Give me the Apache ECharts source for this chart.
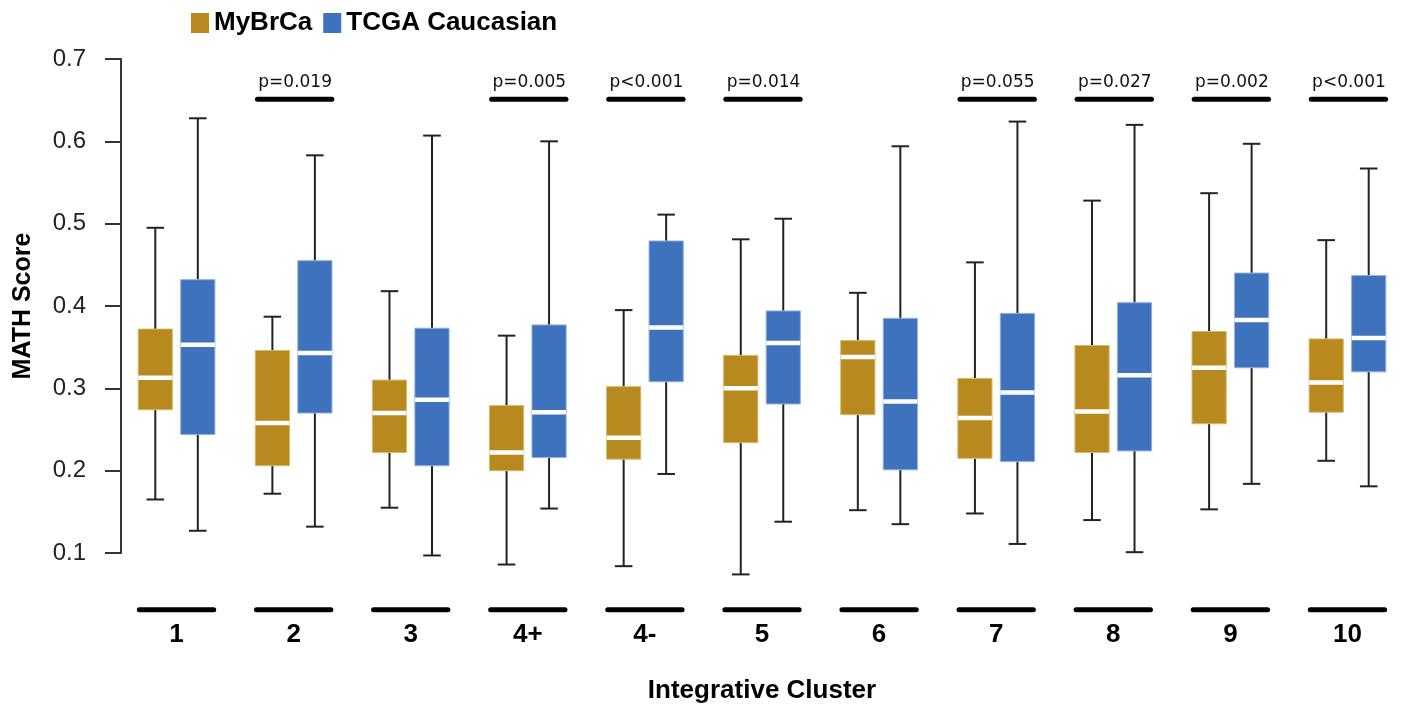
<!DOCTYPE html>
<html>
<head>
<meta charset="utf-8">
<title>MATH Score by Integrative Cluster</title>
<script src="https://cdn.jsdelivr.net/npm/echarts@6/dist/echarts.min.js"></script>
<style>
  html, body { margin: 0; padding: 0; background: #ffffff; }
  #chart { width: 1406px; height: 709px; }
</style>
</head>
<body>
<div id="chart"></div>
<script>
// Integrative clusters along the x axis
const categories = ['1', '2', '3', '4+', '4-', '5', '6', '7', '8', '9', '10'];

// Box statistics per cluster: [lower whisker, Q1, median, Q3, upper whisker]
const myBrCa = [
  [0.165, 0.274, 0.313, 0.372, 0.495],
  [0.172, 0.206, 0.258, 0.346, 0.387],
  [0.155, 0.222, 0.270, 0.310, 0.418],
  [0.086, 0.200, 0.222, 0.279, 0.364],
  [0.084, 0.214, 0.240, 0.302, 0.395],
  [0.074, 0.234, 0.300, 0.340, 0.481],
  [0.152, 0.268, 0.338, 0.358, 0.416],
  [0.148, 0.215, 0.264, 0.312, 0.453],
  [0.140, 0.222, 0.272, 0.352, 0.528],
  [0.153, 0.257, 0.325, 0.369, 0.537],
  [0.212, 0.271, 0.307, 0.360, 0.480]
];
const tcgaCaucasian = [
  [0.127, 0.244, 0.353, 0.432, 0.628],
  [0.132, 0.270, 0.343, 0.455, 0.583],
  [0.097, 0.206, 0.286, 0.373, 0.607],
  [0.154, 0.216, 0.271, 0.377, 0.600],
  [0.196, 0.308, 0.374, 0.479, 0.511],
  [0.138, 0.281, 0.355, 0.394, 0.506],
  [0.135, 0.201, 0.284, 0.385, 0.594],
  [0.111, 0.211, 0.295, 0.391, 0.624],
  [0.101, 0.224, 0.316, 0.404, 0.620],
  [0.184, 0.325, 0.383, 0.440, 0.597],
  [0.181, 0.320, 0.361, 0.437, 0.567]
];

// Significance labels per cluster (empty where none is shown)
const pLabels = ['', 'p=0.019', '', 'p=0.005', 'p<0.001', 'p=0.014', '', 'p=0.055', 'p=0.027', 'p=0.002', 'p<0.001'];

const seriesNames = ['MyBrCa', 'TCGA Caucasian'];

// Styling constants
const GOLD = '#B8891E';
const GOLD_EDGE = '#D6B869';
const BLUE = '#3F72BC';
const BLUE_EDGE = '#8FB0E0';
const INK = '#222222';
const BOX_W = 0.292;      // box width as a share of the category band
const BOX_SHIFT = 0.1815; // box centre offset from band centre
const CAP_W = 0.15;       // whisker cap width as a share of the band
const BAR_W = 0.635;      // annotation bar width as a share of the band
const P_LEVEL = 0.651;    // y value of the significance bars
const BASE_LEVEL = 0.031; // y value of the cluster underline bars

function toRows(stats) {
  return stats.map((s, i) => [i].concat(s));
}

function boxRenderer(shift, fill, edge) {
  return function (params, api) {
    const i = api.value(0);
    const band = api.size([1, 0])[0];
    const cx = api.coord([i, 0.1])[0] + band * shift;
    const yAt = k => api.coord([i, api.value(k)])[1];
    const yLo = yAt(1), yQ1 = yAt(2), yMed = yAt(3), yQ3 = yAt(4), yHi = yAt(5);
    const half = band * BOX_W / 2;
    const cap = band * CAP_W / 2;
    const whisker = { stroke: INK, lineWidth: 2 };
    return {
      type: 'group',
      children: [
        { type: 'line', shape: { x1: cx, y1: yQ3, x2: cx, y2: yHi }, style: whisker },
        { type: 'line', shape: { x1: cx - cap, y1: yHi, x2: cx + cap, y2: yHi }, style: whisker },
        { type: 'line', shape: { x1: cx, y1: yQ1, x2: cx, y2: yLo }, style: whisker },
        { type: 'line', shape: { x1: cx - cap, y1: yLo, x2: cx + cap, y2: yLo }, style: whisker },
        {
          type: 'rect',
          shape: { x: cx - half, y: yQ3, width: half * 2, height: yQ1 - yQ3 },
          style: { fill: fill, stroke: edge, lineWidth: 1 }
        },
        {
          type: 'line',
          shape: { x1: cx - half, y1: yMed, x2: cx + half, y2: yMed },
          style: { stroke: '#ffffff', lineWidth: 4.5 }
        }
      ]
    };
  };
}

function annotationRenderer(params, api) {
  const i = api.value(0);
  const band = api.size([1, 0])[0];
  const cx = api.coord([i, 0.1])[0];
  const halfBar = band * BAR_W / 2;
  const barStyle = { stroke: '#000000', lineWidth: 5, lineCap: 'round' };
  const yBase = api.coord([i, BASE_LEVEL])[1];
  const children = [
    { type: 'line', shape: { x1: cx - halfBar, y1: yBase, x2: cx + halfBar, y2: yBase }, style: barStyle }
  ];
  const label = pLabels[params.dataIndex];
  if (label) {
    const yP = api.coord([i, P_LEVEL])[1];
    children.push(
      { type: 'line', shape: { x1: cx - halfBar + 1, y1: yP, x2: cx + halfBar + 1, y2: yP }, style: barStyle },
      {
        type: 'text',
        x: cx + 1.5,
        y: yP - 8,
        style: {
          text: label,
          fill: '#111111',
          font: '17px "DejaVu Sans"',
          textAlign: 'center',
          textVerticalAlign: 'bottom'
        }
      }
    );
  }
  return { type: 'group', children: children };
}

const chart = echarts.init(document.getElementById('chart'), null, { renderer: 'canvas' });

chart.setOption({
  animation: false,
  backgroundColor: '#ffffff',
  legend: {
    data: seriesNames,
    left: 186,
    top: 5,
    icon: 'rect',
    itemWidth: 18,
    itemHeight: 20,
    itemGap: 11,
    textStyle: {
      fontFamily: '"Liberation Sans", Arial, sans-serif',
      fontWeight: 'bold',
      fontSize: 26,
      color: '#000000'
    }
  },
  grid: { left: 118, top: 59, width: 1294, height: 497 },
  xAxis: {
    type: 'category',
    data: categories,
    boundaryGap: true,
    axisLine: { show: false },
    axisTick: { show: false },
    axisLabel: {
      margin: 69,
      color: '#000000',
      fontFamily: '"Liberation Sans", Arial, sans-serif',
      fontWeight: 'bold',
      fontSize: 26
    },
    name: 'Integrative Cluster',
    nameLocation: 'middle',
    nameGap: 125,
    nameTextStyle: {
      color: '#000000',
      fontFamily: '"Liberation Sans", Arial, sans-serif',
      fontWeight: 'bold',
      fontSize: 26
    }
  },
  yAxis: {
    type: 'value',
    min: 0.1,
    max: 0.7,
    interval: 0.1,
    offset: -3,
    splitLine: { show: false },
    axisLine: { show: true, lineStyle: { color: '#333333', width: 2 } },
    axisTick: { show: true, length: 16, lineStyle: { color: '#333333', width: 2 } },
    axisLabel: {
      margin: 35,
      color: '#222222',
      fontFamily: '"Liberation Sans", Arial, sans-serif',
      fontSize: 24,
      formatter: v => v.toFixed(1)
    },
    name: 'MATH Score',
    nameLocation: 'middle',
    nameGap: 85,
    nameTextStyle: {
      color: '#000000',
      fontFamily: '"Liberation Sans", Arial, sans-serif',
      fontWeight: 'bold',
      fontSize: 25
    }
  },
  series: [
    {
      name: seriesNames[0],
      type: 'custom',
      clip: false,
      itemStyle: { color: GOLD },
      encode: { x: 0, y: [1, 2, 3, 4, 5] },
      data: toRows(myBrCa),
      renderItem: boxRenderer(-BOX_SHIFT, GOLD, GOLD_EDGE)
    },
    {
      name: seriesNames[1],
      type: 'custom',
      clip: false,
      itemStyle: { color: BLUE },
      encode: { x: 0, y: [1, 2, 3, 4, 5] },
      data: toRows(tcgaCaucasian),
      renderItem: boxRenderer(BOX_SHIFT, BLUE, BLUE_EDGE)
    },
    {
      name: 'annotations',
      type: 'custom',
      clip: false,
      silent: true,
      encode: { x: 0 },
      data: categories.map((c, i) => [i]),
      renderItem: annotationRenderer
    }
  ]
});
</script>
</body>
</html>
